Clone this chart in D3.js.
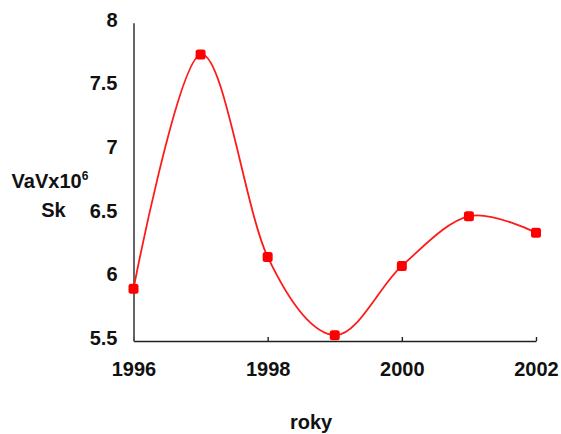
<!DOCTYPE html>
<html lang="en">
<head>
    <meta charset="UTF-8">
    <title>VaVx10^6 Sk podle roku</title>
    <script src="https://d3js.org/d3.v7.min.js"></script>
    <style>
        body { margin: 0; background: #fff; font-family: "Liberation Sans", Arial, sans-serif; }
        text { font-weight: bold; fill: #111; }
    </style>
</head>
<body>
    <script>
        // Data
        const years = [1996, 1997, 1998, 1999, 2000, 2001, 2002];
        const values = [5.91, 7.75, 6.16, 5.545, 6.09, 6.48, 6.35];
        const xTicks = [1996, 1998, 2000, 2002];
        const yTicks = [5.5, 6, 6.5, 7, 7.5, 8];

        const W = 561, H = 434;
        const margin = { top: 22.7, right: 25, bottom: 93, left: 133.5 },
              width = W - margin.left - margin.right,
              height = H - margin.top - margin.bottom;

        const svg = d3.select("body").append("svg")
            .attr("width", W)
            .attr("height", H);

        const g = svg.append("g")
            .attr("transform", "translate(" + margin.left + "," + margin.top + ")");

        const x = d3.scaleLinear().domain([1996, 2002]).range([0, width]);
        const y = d3.scaleLinear().domain([5.5, 8]).range([height, 0]);

        const data = years.map((yr, i) => ({ year: yr, value: values[i] }));

        // X axis: ticks pointing up, labels below
        const xAxis = g.append("g")
            .attr("transform", "translate(0," + height + ")")
            .call(d3.axisBottom(x).tickValues(xTicks).tickFormat(d3.format("d"))
                .tickSizeInner(-4).tickSizeOuter(0).tickPadding(21));
        xAxis.select(".domain").attr("stroke", "#222").attr("stroke-width", 1.6);
        xAxis.selectAll(".tick line").attr("stroke", "#222").attr("stroke-width", 1.4);
        xAxis.selectAll(".tick text")
            .attr("fill", "#111")
            .style("font-family", "'Liberation Sans', Arial, sans-serif")
            .style("font-size", "20px")
            .style("font-weight", "bold");

        // Y axis: plain line, no tick marks
        const yAxis = g.append("g")
            .call(d3.axisLeft(y).tickValues(yTicks).tickFormat(d => d)
                .tickSize(0).tickPadding(16));
        yAxis.select(".domain").attr("stroke", "#555").attr("stroke-width", 1.8);
        yAxis.selectAll(".tick text")
            .attr("fill", "#111")
            .attr("dy", "0.18em")
            .style("font-family", "'Liberation Sans', Arial, sans-serif")
            .style("font-size", "20px")
            .style("font-weight", "bold");

        // Line (smoothed)
        const line = d3.line()
            .x(d => x(d.year))
            .y(d => y(d.value))
            .curve(d3.curveCatmullRom.alpha(0));

        g.append("path")
            .datum(data)
            .attr("fill", "none")
            .attr("stroke", "#ff1a1a")
            .attr("stroke-width", 1.8)
            .attr("d", line);

        // Markers
        const ms = 10;
        g.selectAll(".marker")
            .data(data)
            .enter().append("rect")
            .attr("class", "marker")
            .attr("x", d => x(d.year) - ms / 2)
            .attr("y", d => y(d.value) - ms / 2)
            .attr("width", ms)
            .attr("height", ms)
            .attr("rx", 2.5)
            .attr("fill", "#ff0000");

        // Y axis title (two lines)
        const yTitle = svg.append("text")
            .attr("text-anchor", "middle")
            .attr("x", 50)
            .attr("y", 188)
            .style("font-size", "20px");
        yTitle.append("tspan").text("VaVx10");
        yTitle.append("tspan")
            .attr("dy", "-8")
            .style("font-size", "12px")
            .text("6");
        svg.append("text")
            .attr("text-anchor", "middle")
            .attr("x", 53.5)
            .attr("y", 217)
            .style("font-size", "20px")
            .text("Sk");

        // X axis title
        svg.append("text")
            .attr("text-anchor", "middle")
            .attr("x", 311)
            .attr("y", 429)
            .style("font-size", "20px")
            .text("roky");
    </script>
</body>
</html>
